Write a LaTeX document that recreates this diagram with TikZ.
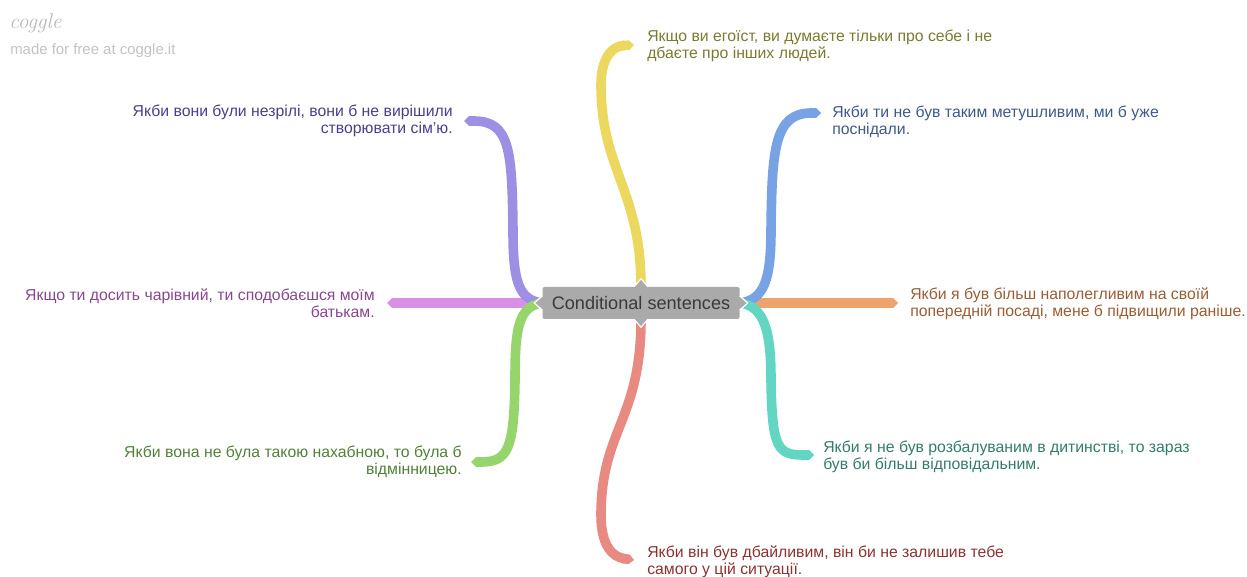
\documentclass[tikz,border=0pt]{standalone}
\usepackage{fontspec}
\setsansfont{Liberation Sans}
\usetikzlibrary{arrows.meta,backgrounds}

\definecolor{rootfill}{HTML}{AAAAAA}
\definecolor{roottext}{HTML}{3A3A3A}
\definecolor{logogray}{HTML}{B8B8B8}
\definecolor{ybr}{HTML}{ECD85E}\definecolor{ytx}{HTML}{7B7A30}
\definecolor{pbr}{HTML}{9D8FE3}\definecolor{ptx}{HTML}{4B3E8E}
\definecolor{bbr}{HTML}{77A2E3}\definecolor{btx}{HTML}{3D5A8A}
\definecolor{obr}{HTML}{EEA36D}\definecolor{otx}{HTML}{9B5D33}
\definecolor{tbr}{HTML}{62D6C2}\definecolor{ttx}{HTML}{337C6C}
\definecolor{rbr}{HTML}{E88A82}\definecolor{rtx}{HTML}{8C3232}
\definecolor{gbr}{HTML}{96D46C}\definecolor{gtx}{HTML}{52803A}
\definecolor{mbr}{HTML}{DA8FE6}\definecolor{mtx}{HTML}{8A4590}

\begin{document}
\begin{tikzpicture}[x=0.75pt,y=-0.75pt,
  branch/.style={line width=7.2pt, line cap=round, -{Triangle Cap}},
  leaf/.style={inner sep=0pt, font=\sffamily\fontsize{11.85}{13.1}\selectfont},
  leafL/.style={leaf, anchor=base west, align=left},
  leafR/.style={leaf, anchor=base east, align=right},
  pointer/.style={draw=white, line width=0.9pt, line join=miter}
]
\useasboundingbox (0,0) rectangle (1247,577);

% watermark
\node[anchor=base west, inner sep=0pt, text=logogray,
      font=\rmfamily\itshape\fontsize{16}{18}\selectfont] (logo) at (9,29) {coggle};
\node[anchor=base west, inner sep=0pt, text=logogray!85,
      font=\sffamily\fontsize{11.2}{13}\selectfont] (made) at (10,55) {made for free at coggle.it};

% central topic
\node[fill=rootfill, rounded corners=1.5pt, minimum width=147.75pt, minimum height=24pt,
      inner sep=0pt, text=roottext, font=\sffamily\fontsize{13.6}{16}\selectfont]
      (root) at (641,303) {Conditional sentences};

% leaf texts (anchored on the baseline of their last line)
\node[leafL, text=ytx] (yLab) at (647,58.5) {Якщо ви егоїст, ви думаєте тільки про себе і не\\дбаєте про інших людей.};
\node[leafR, text=ptx] (pLab) at (453,133.5) {Якби вони були незрілі, вони б не вирішили\\створювати сім’ю.};
\node[leafL, text=btx] (bLab) at (832,134.5) {Якби ти не був таким метушливим, ми б уже\\поснідали.};
\node[leafL, text=otx] (oLab) at (910,316.5) {Якби я був більш наполегливим на своїй\\попередній посаді, мене б підвищили раніше.};
\node[leafR, text=mtx] (mLab) at (375,317.5) {Якщо ти досить чарівний, ти сподобаєшся моїм\\батькам.};
\node[leafR, text=gtx] (gLab) at (462,474.5) {Якби вона не була такою нахабною, то була б\\відмінницею.};
\node[leafL, text=ttx] (tLab) at (823,469.5) {Якби я не був розбалуваним в дитинстві, то зараз\\був би більш відповідальним.};
\node[leafL, text=rtx] (rLab) at (647,574.5) {Якби він був дбайливим, він би не залишив тебе\\самого у цій ситуації.};

% branch ends
\coordinate (yEnd) at (634,45);
\coordinate (pEnd) at (464,121);
\coordinate (bEnd) at (821,113);
\coordinate (oEnd) at (898,303);
\coordinate (mEnd) at (387,303);
\coordinate (gEnd) at (471,462);
\coordinate (tEnd) at (814,455);
\coordinate (rEnd) at (634,560);

\begin{scope}[on background layer]
  \draw[branch, ybr] (root.north) .. controls (641,190) and (601,170) .. (601,85)
        .. controls (601,58) and (612,46) .. (yEnd);
  \draw[branch, rbr] (root.south) .. controls (641,420) and (601,430) .. (601,515)
        .. controls (601,545) and (612,557) .. (rEnd);
  \draw[branch, mbr] (root.west) -- (mEnd);
  \draw[branch, obr] (root.east) -- (oEnd);
  \draw[branch, pbr] (root.west) .. controls (518,300) and (513,280) .. (513,230)
        .. controls (512,150) and (510,121) .. (pEnd);
  \draw[branch, gbr] (root.west) .. controls (518,306) and (515,330) .. (515,380)
        .. controls (514,450) and (508,462) .. (gEnd);
  \draw[branch, bbr] (root.east) .. controls (764,300) and (771,280) .. (771,230)
        .. controls (772,150) and (774,113) .. (bEnd);
  \draw[branch, tbr] (root.east) .. controls (764,306) and (771,330) .. (771,380)
        .. controls (772,450) and (778,455) .. (tEnd);
\end{scope}

% connector pointers on the central topic
\fill[rootfill] (root.north) ++(-7,1) -- ++(7,-9) -- ++(7,9) -- cycle;
\draw[pointer] (root.north) ++(-7,0) -- ++(7,-8) -- ++(7,8);
\fill[rootfill] (root.south) ++(-7,-1) -- ++(7,9) -- ++(7,-9) -- cycle;
\draw[pointer] (root.south) ++(-7,0) -- ++(7,8) -- ++(7,-8);
\fill[rootfill] (root.west) ++(1,-7) -- ++(-9,7) -- ++(9,7) -- cycle;
\draw[pointer] (root.west) ++(0,-7) -- ++(-8,7) -- ++(8,7);
\fill[rootfill] (root.east) ++(-1,-7) -- ++(9,7) -- ++(-9,7) -- cycle;
\draw[pointer] (root.east) ++(0,-7) -- ++(8,7) -- ++(-8,7);
\end{tikzpicture}
\end{document}
